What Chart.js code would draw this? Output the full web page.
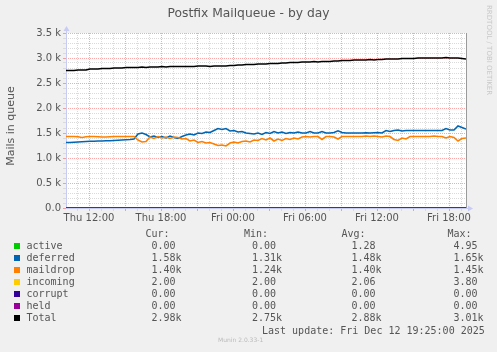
<!DOCTYPE html>
<html>
<head>
<meta charset="utf-8">
<script src="https://cdn.jsdelivr.net/npm/chart.js@4.4.1/dist/chart.umd.min.js"></script>
<style>
html, body { margin: 0; padding: 0; background: #f0f0f0; }
#wrap { position: relative; width: 497px; height: 352px; overflow: hidden; font-family: "DejaVu Sans", sans-serif; color: #555; }
canvas { position: absolute; left: 0; top: 0; }
.t { position: absolute; white-space: pre; }
.m { font-family: "DejaVu Sans Mono", monospace; font-size: 10px; line-height: 12px; color: #555; }
.sq { position: absolute; width: 6px; height: 6px; }
</style>
</head>
<body>
<div id="wrap">
  <canvas id="c" width="497" height="352"></canvas>
  <div class="t" id="title" style="left:0;width:497px;top:6px;text-align:center;font-size:12.3px;line-height:14px;">Postfix Mailqueue - by day</div>
  <div class="t" style="left:-49px;top:119px;width:120px;text-align:center;font-size:11px;line-height:14px;transform:rotate(-90deg);">Mails in queue</div>
  <div class="t" style="left:485px;top:5px;font-size:7px;color:#c8c8c8;writing-mode:vertical-rl;">RRDTOOL / TOBI OETIKER</div>
  <div class="t" style="left:218px;top:336px;font-size:6px;line-height:8px;color:#bbb;">Munin 2.0.33-1</div>
  <div id="legend"></div>
</div>
<script>
// samples every 20 minutes, Thu 10:05 -> Fri 19:25
const startHour = 10 + 5 / 60;
const stepHours = 1 / 3;

const seriesNames = ['active', 'deferred', 'maildrop', 'incoming', 'corrupt', 'held', 'Total'];
const seriesColors = ['#00cc00', '#0066b3', '#ff8000', '#ffcc00', '#330099', '#990099', '#000000'];
const curVals = ['0.00', '1.58k', '1.40k', '2.00', '0.00', '0.00', '2.98k'];
const minVals = ['0.00', '1.31k', '1.24k', '2.00', '0.00', '0.00', '2.75k'];
const avgVals = ['1.28', '1.48k', '1.40k', '2.06', '0.00', '0.00', '2.88k'];
const maxVals = ['4.95', '1.65k', '1.45k', '3.80', '0.00', '0.00', '3.01k'];

const active = [
  0,0,1,2,0,0,1,3,2,0, 0,1,2,4,1,0,0,2,3,1, 0,0,1,2,4.95,1,0,0,1,3,
  2,0,1,1,0,2,3,1,0,0, 1,2,4,2,0,0,1,2,1,0, 0,3,2,1,0,1,2,0,0,1,
  2,4,1,0,0,1,3,2,0,0, 1,2,1,0,2,4.95,2,0,0,1, 3,1,0,0,2,1,0,1,4,2,
  0,0,1,2,1,0,2,3,1,0, 0
];
const deferred = [
  1310,1310,1315,1320,1325,1330,1335,1335,1340,1340,
  1345,1345,1350,1355,1360,1365,1370,1380,1480,1500,
  1470,1420,1440,1410,1430,1400,1440,1410,1390,1430,
  1460,1480,1460,1500,1490,1520,1510,1550,1590,1570,
  1590,1540,1550,1520,1530,1500,1490,1480,1500,1470,
  1510,1490,1530,1500,1520,1490,1510,1500,1520,1500,
  1500,1530,1500,1500,1530,1500,1500,1510,1545,1510,
  1500,1500,1500,1500,1500,1505,1500,1505,1510,1500,
  1550,1530,1550,1560,1540,1550,1550,1550,1550,1550,
  1550,1550,1550,1550,1550,1590,1560,1560,1640,1610,
  1580
];
const maildrop = [
  1430,1430,1430,1425,1410,1425,1430,1430,1425,1420,
  1420,1425,1430,1430,1430,1430,1430,1430,1360,1320,
  1330,1420,1390,1430,1400,1420,1390,1420,1410,1380,
  1390,1340,1360,1310,1330,1300,1310,1280,1250,1260,
  1240,1300,1320,1300,1330,1340,1320,1360,1350,1390,
  1360,1400,1340,1380,1350,1390,1370,1400,1380,1420,
  1430,1420,1430,1430,1370,1430,1430,1420,1380,1430,
  1430,1430,1430,1430,1430,1440,1430,1440,1430,1420,
  1440,1430,1370,1350,1400,1380,1430,1430,1430,1430,
  1430,1430,1440,1430,1430,1400,1430,1410,1340,1390,
  1400
];
const incoming = [
  2,2,2,2,2,2,2,2,2,2, 2,2,2,2.5,2,2,2,2,2,2, 2,2,2,2,2,2,3.8,2,2,2,
  2,2,2,2,2,2,2,2,2,2, 2,2,2,2,2.4,2,2,2,2,2, 2,2,2,2,2,2,2,2,2,2,
  2,2,2,2,2,2,2,2,2.6,2, 2,2,2,2,2,2,2,2,2,2, 2,2,2,2,2,2,2,2,2,2,
  2,2,2,2,2,2,2,2,2,2, 2
];
const corrupt = [
  0,0,0,0,0,0,0,0,0,0, 0,0,0,0,0,0,0,0,0,0, 0,0,0,0,0,0,0,0,0,0,
  0,0,0,0,0,0,0,0,0,0, 0,0,0,0,0,0,0,0,0,0, 0,0,0,0,0,0,0,0,0,0,
  0,0,0,0,0,0,0,0,0,0, 0,0,0,0,0,0,0,0,0,0, 0,0,0,0,0,0,0,0,0,0,
  0,0,0,0,0,0,0,0,0,0, 0
];
const held = [
  0,0,0,0,0,0,0,0,0,0, 0,0,0,0,0,0,0,0,0,0, 0,0,0,0,0,0,0,0,0,0,
  0,0,0,0,0,0,0,0,0,0, 0,0,0,0,0,0,0,0,0,0, 0,0,0,0,0,0,0,0,0,0,
  0,0,0,0,0,0,0,0,0,0, 0,0,0,0,0,0,0,0,0,0, 0,0,0,0,0,0,0,0,0,0,
  0,0,0,0,0,0,0,0,0,0, 0
];
const total = [
  2750,2750,2750,2760,2760,2760,2780,2780,2780,2790,
  2790,2790,2800,2800,2800,2810,2810,2810,2810,2820,
  2810,2820,2820,2820,2830,2820,2830,2830,2830,2830,
  2830,2830,2830,2840,2840,2840,2830,2840,2840,2840,
  2840,2850,2850,2860,2860,2870,2870,2870,2880,2880,
  2880,2890,2890,2890,2900,2900,2910,2910,2910,2920,
  2920,2920,2930,2920,2930,2930,2930,2940,2940,2950,
  2950,2950,2960,2960,2960,2960,2970,2960,2970,2970,
  2980,2980,2980,2980,2990,2990,2990,2990,3000,3000,
  3000,3000,3000,3000,3000,3010,3000,3000,3000,2990,
  2980
];
const allSeries = [active, deferred, maildrop, incoming, corrupt, held, total];

function q(id){ return document.getElementById(id); }

const nPts = total.length;
const xMin = startHour, xMax = startHour + (nPts - 1) * stepHours;
const xGrid = []; for (let h = Math.ceil(xMin); h <= xMax; h++) xGrid.push(h);
const yGrid = []; for (let v = 0; v <= 3500; v += 100) yGrid.push(v);

const majorColor = 'rgba(255,0,0,0.35)';
const minorColor = '#dadada';
const tickFont = { family: 'DejaVu Sans', size: 10 };

function hourLabel(v){
  const day = v < 24 ? 'Thu' : 'Fri';
  const h = v % 24;
  return day + ' ' + (h < 10 ? '0' : '') + h + ':00';
}

// legend table
(function(){
  const lg = q('legend');
  let html = '';
  const row0 = 240;
  html += `<div class="t m" style="left:145.5px;top:227.5px">Cur:</div>`;
  html += `<div class="t m" style="left:244px;top:227.5px">Min:</div>`;
  html += `<div class="t m" style="left:341.5px;top:227.5px">Avg:</div>`;
  html += `<div class="t m" style="left:447.5px;top:227.5px">Max:</div>`;
  seriesNames.forEach((n, i) => {
    const top = row0 + 12 * i;
    html += `<div class="sq" style="left:14px;top:${top + 2.5}px;background:${seriesColors[i]}"></div>`;
    html += `<div class="t m" style="left:26.5px;top:${top}px">${n}</div>`;
    html += `<div class="t m" style="left:151.5px;top:${top}px">${curVals[i]}</div>`;
    html += `<div class="t m" style="left:252px;top:${top}px">${minVals[i]}</div>`;
    html += `<div class="t m" style="left:351.5px;top:${top}px">${avgVals[i]}</div>`;
    html += `<div class="t m" style="left:453.5px;top:${top}px">${maxVals[i]}</div>`;
  });
  html += `<div class="t m" style="left:262px;top:325px">Last update: Fri Dec 12 19:25:00 2025</div>`;
  lg.innerHTML = html;
})();

const muninPlugin = {
  id: 'munin',
  beforeDraw(chart){
    const a = chart.chartArea, ctx = chart.ctx;
    ctx.save();
    ctx.fillStyle = '#ffffff';
    ctx.fillRect(a.left, a.top, a.right - a.left, a.bottom - a.top);
    ctx.restore();
  },
  beforeDatasetsDraw(chart){
    const a = chart.chartArea, ctx = chart.ctx;
    ctx.save();
    // right frame
    ctx.strokeStyle = '#9a9a9a'; ctx.lineWidth = 1;
    ctx.beginPath(); ctx.moveTo(a.right + 0.5, a.top); ctx.lineTo(a.right + 0.5, a.bottom); ctx.stroke();
    // axes with arrows
    ctx.strokeStyle = '#c8ccf4'; ctx.fillStyle = '#c8ccf4';
    ctx.beginPath(); ctx.moveTo(a.left + 0.5, a.bottom); ctx.lineTo(a.left + 0.5, a.top - 4); ctx.stroke();
    ctx.beginPath(); ctx.moveTo(a.left - 2.5, a.top - 2); ctx.lineTo(a.left + 3.5, a.top - 2); ctx.lineTo(a.left + 0.5, a.top - 7); ctx.closePath(); ctx.fill();
    ctx.beginPath(); ctx.moveTo(a.left, a.bottom + 0.5); ctx.lineTo(a.right + 3, a.bottom + 0.5); ctx.stroke();
    ctx.beginPath(); ctx.moveTo(a.right + 2, a.bottom - 2.5); ctx.lineTo(a.right + 2, a.bottom + 3.5); ctx.lineTo(a.right + 7, a.bottom + 0.5); ctx.closePath(); ctx.fill();
    ctx.restore();
  }
};

const datasets = allSeries.map((arr, i) => ({
  label: seriesNames[i],
  data: arr.map((v, k) => ({ x: startHour + k * stepHours, y: v })),
  borderColor: seriesColors[i],
  borderWidth: 1.6,
  pointRadius: 0,
  tension: 0,
  fill: false,
  order: allSeries.length - i
}));

new Chart(q('c'), {
  type: 'line',
  data: { datasets },
  options: {
    responsive: false,
    animation: false,
    layout: { autoPadding: false, padding: { left: 0, top: 33, right: 31, bottom: 124 } },
    plugins: { legend: { display: false }, tooltip: { enabled: false }, title: { display: false } },
    scales: {
      x: {
        type: 'linear', min: xMin, max: xMax,
        afterBuildTicks: s => { s.ticks = xGrid.map(v => ({ value: v })); },
        afterFit: s => { s.height = 20; },
        grid: { color: c => (c.tick && c.tick.value % 3 === 0) ? majorColor : minorColor, lineWidth: 1, tickLength: 3 },
        border: { display: false, dash: [1, 1] },
        ticks: { autoSkip: false, maxRotation: 0, minRotation: 0, padding: 1, color: '#555', font: tickFont,
          callback: v => v % 6 === 0 ? hourLabel(v) : '' }
      },
      y: {
        min: 0, max: 3500,
        afterBuildTicks: s => { s.ticks = yGrid.map(v => ({ value: v })); },
        afterFit: s => { s.width = 66; },
        grid: { color: c => (c.tick && c.tick.value % 500 === 0) ? majorColor : minorColor, lineWidth: 1, tickLength: 3 },
        border: { display: false, dash: [1, 1] },
        ticks: { autoSkip: false, padding: 2, color: '#555', font: tickFont,
          callback: v => v % 500 !== 0 ? '' : (v === 0 ? '0.0' : (v / 1000).toFixed(1) + ' k') }
      }
    }
  },
  plugins: [muninPlugin]
});
</script>
</body>
</html>
